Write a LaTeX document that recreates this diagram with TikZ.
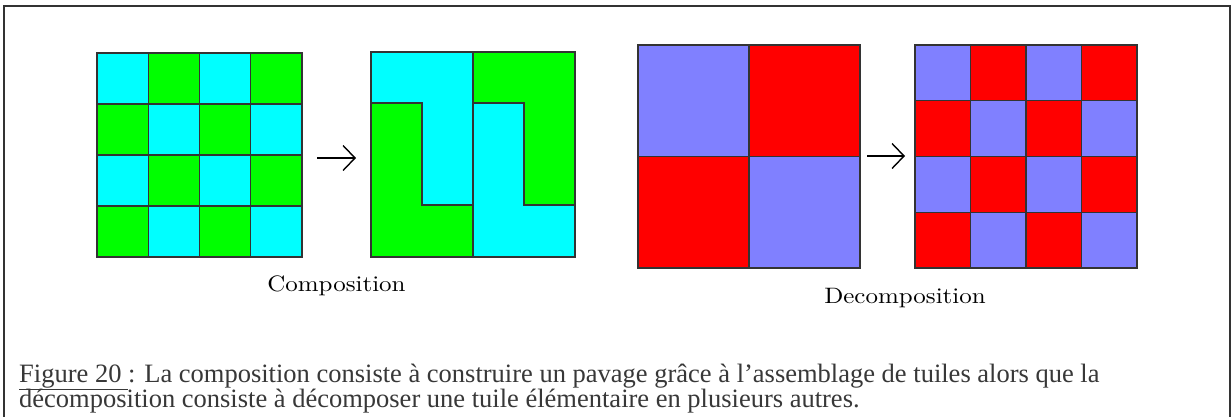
\documentclass[tikz,border=0pt]{standalone}
\usepackage{fontspec}
\usetikzlibrary{arrows.meta}
\newfontfamily\capfont{Liberation Serif}
\newfontfamily\labfont[FakeStretch=1.12]{lmroman10-regular.otf}
\definecolor{tcyan}{HTML}{00FFFF}
\definecolor{tgreen}{HTML}{00FF00}
\definecolor{tblue}{HTML}{8080FF}
\definecolor{tred}{HTML}{FF0000}
\definecolor{edge}{HTML}{333333}
\definecolor{captxt}{HTML}{383838}
\tikzset{
  tile/.style={draw=edge, line width=1.3pt},
  frameline/.style={draw=edge, line width=2pt},
  goto/.style={draw=black, line width=1.8pt, -{Straight Barb[length=12pt,width=25pt,line width=1.4pt]}},
  lab/.style={inner sep=0pt, font=\labfont\fontsize{22.3}{26}\selectfont},
  captext/.style={inner sep=0pt, anchor=base west, text=captxt, font=\capfont\fontsize{26.5}{28}\selectfont}
}
\begin{document}
\begin{tikzpicture}[x=1pt,y=-1pt]
\useasboundingbox (0,0) rectangle (1232,416);
\fill[white] (0,0) rectangle (1232,416);
% frame
\draw[frameline] (4,420) -- (4,6) -- (1230,6) -- (1230,420);
% left checkerboard 4x4 (97..302, 53..257)
\foreach \i in {0,...,3}{
  \foreach \j in {0,...,3}{
    \pgfmathtruncatemacro{\pty}{mod(\i+\j,2)}
    \ifnum\pty=0
      \filldraw[tile, fill=tcyan] (97+51.25*\i,53+51*\j) rectangle ++(51.25,51);
    \else
      \filldraw[tile, fill=tgreen] (97+51.25*\i,53+51*\j) rectangle ++(51.25,51);
    \fi
  }
}
\node[inner sep=0pt, minimum width=205pt, minimum height=204pt] (g1) at (199.5,155) {};
% composed shape (371..575, 52..257), cell 51
\begin{scope}[shift={(371,52)}]
  \filldraw[tile, fill=tcyan] (0,0) -- (102,0) -- (102,153) -- (51,153) -- (51,51) -- (0,51) -- cycle;
  \filldraw[tile, fill=tgreen] (0,51) -- (51,51) -- (51,153) -- (102,153) -- (102,205) -- (0,205) -- cycle;
  \filldraw[tile, fill=tgreen] (102,0) -- (204,0) -- (204,153) -- (153,153) -- (153,51) -- (102,51) -- cycle;
  \filldraw[tile, fill=tcyan] (102,51) -- (153,51) -- (153,153) -- (204,153) -- (204,205) -- (102,205) -- cycle;
\end{scope}
\node[inner sep=0pt, minimum width=204pt, minimum height=205pt] (g2) at (473,154.5) {};
% big 2x2 (638..860, 45..268)
\filldraw[tile, fill=tblue] (638,45) rectangle (749,156.5);
\filldraw[tile, fill=tred] (749,45) rectangle (860,156.5);
\filldraw[tile, fill=tred] (638,156.5) rectangle (749,268);
\filldraw[tile, fill=tblue] (749,156.5) rectangle (860,268);
\node[inner sep=0pt, minimum width=222pt, minimum height=223pt] (g3) at (749,156.5) {};
% right 4x4 (915..1137, 45..268)
\foreach \i in {0,...,3}{
  \foreach \j in {0,...,3}{
    \pgfmathtruncatemacro{\pty}{mod(\i+\j,2)}
    \ifnum\pty=0
      \filldraw[tile, fill=tblue] (915+55.5*\i,45+55.75*\j) rectangle ++(55.5,55.75);
    \else
      \filldraw[tile, fill=tred] (915+55.5*\i,45+55.75*\j) rectangle ++(55.5,55.75);
    \fi
  }
}
\node[inner sep=0pt, minimum width=222pt, minimum height=223pt] (g4) at (1026,156.5) {};
% arrows
\coordinate (a1s) at (317,158);
\coordinate (a1e) at (356,158);
\coordinate (a2s) at (867,156);
\coordinate (a2e) at (905,156);
\draw[goto] (a1s) -- (a1e);
\draw[goto] (a2s) -- (a2e);
% labels
\node[lab] (lc) at (336.5,286) {Composition};
\node[lab] (ld) at (905,298) {Decomposition};
% caption
\node[captext] (c1) at (19,382) {\underline{Figure 20 }: La composition consiste à construire un pavage grâce à l’assemblage de tuiles alors que la};
\node[captext] (c2) at (19,407) {décomposition consiste à décomposer une tuile élémentaire en plusieurs autres.};
\end{tikzpicture}
\end{document}
